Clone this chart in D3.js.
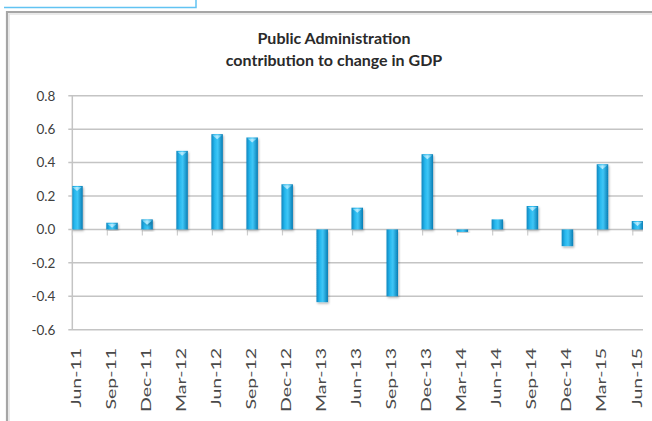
<!DOCTYPE html>
<html>
<head>
<meta charset="utf-8">
<script src="https://cdn.jsdelivr.net/npm/d3@7"></script>
<style>
  body { margin: 0; background: #fff; }
  svg { display: block; }
  text { font-family: Lato, "Open Sans", sans-serif; fill: #404040; }
</style>
</head>
<body>
<div class="chart_area"></div>
<script>
// quarters and values
var quarters = ["Jun-11", "Sep-11", "Dec-11", "Mar-12", "Jun-12", "Sep-12", "Dec-12", "Mar-13",
                "Jun-13", "Sep-13", "Dec-13", "Mar-14", "Jun-14", "Sep-14", "Dec-14", "Mar-15", "Jun-15"];
var contrib = [0.26, 0.04, 0.06, 0.47, 0.57, 0.55, 0.27, -0.435,
               0.13, -0.40, 0.45, -0.015, 0.06, 0.14, -0.10, 0.39, 0.05];
var yTicks = [0.8, 0.6, 0.4, 0.2, 0.0, -0.2, -0.4, -0.6];
var titleLines = ["Public Administration", "contribution to change in GDP"];

var W = 652, H = 421;
var plot = {left: 72.3, right: 643, top: 95.7, bottom: 329.7};

var svg = d3.select(".chart_area")
  .append("svg")
  .attr("width", W)
  .attr("height", H);

var defs = svg.append("defs");

var grad = defs.append("linearGradient")
  .attr("id", "barGrad")
  .attr("x1", "0%").attr("x2", "100%").attr("y1", "0%").attr("y2", "0%");
grad.append("stop").attr("offset", "0%").attr("stop-color", "#0c86bf");
grad.append("stop").attr("offset", "30%").attr("stop-color", "#27b8ee");
grad.append("stop").attr("offset", "55%").attr("stop-color", "#3fc6f6");
grad.append("stop").attr("offset", "100%").attr("stop-color", "#0a7db4");

var capGrad = defs.append("linearGradient")
  .attr("id", "capGrad")
  .attr("x1", "0%").attr("x2", "100%").attr("y1", "0%").attr("y2", "0%");
capGrad.append("stop").attr("offset", "0%").attr("stop-color", "#5cc8ee");
capGrad.append("stop").attr("offset", "50%").attr("stop-color", "#b6ecff");
capGrad.append("stop").attr("offset", "100%").attr("stop-color", "#4dbbe6");

var shadow = defs.append("filter").attr("id", "shadow")
  .attr("x", "-50%").attr("y", "-20%").attr("width", "200%").attr("height", "140%");
shadow.append("feDropShadow")
  .attr("dx", 1).attr("dy", 1.5).attr("stdDeviation", 1.2)
  .attr("flood-color", "#000").attr("flood-opacity", 0.3);

defs.append("clipPath").attr("id", "plotClip")
  .append("rect")
  .attr("x", plot.left).attr("y", 0)
  .attr("width", plot.right - plot.left).attr("height", H);

// frame of the pasted chart
svg.append("path")
  .attr("d", "M4,7.5H196V0")
  .attr("fill", "none")
  .attr("stroke", "#62c3f2")
  .attr("stroke-width", 1.5);

svg.append("path")
  .attr("d", "M7," + H + "V12H" + W)
  .attr("fill", "none")
  .attr("stroke", "#a6a6a6")
  .attr("stroke-width", 2.2);
svg.append("path")
  .attr("d", "M9," + H + "V14H" + W)
  .attr("fill", "none")
  .attr("stroke", "#e4e4e4")
  .attr("stroke-width", 1.5);

// title
svg.append("g").selectAll("text")
  .data(titleLines)
  .enter()
  .append("text")
    .attr("x", 334)
    .attr("y", function(d, i) { return 44 + i * 22; })
    .attr("text-anchor", "middle")
    .style("font-size", "16px")
    .style("font-weight", "bold")
    .style("fill", "#2a2a2a")
    .text(function(d) { return d; });

var y = d3.scaleLinear()
  .domain([-0.6, 0.8])
  .range([plot.bottom, plot.top]);

var x = d3.scalePoint()
  .domain(quarters)
  .range([77, 637.5]);

// gridlines
svg.append("g").selectAll("line")
  .data(yTicks)
  .enter()
  .append("line")
    .attr("x1", plot.left - 4)
    .attr("x2", plot.right)
    .attr("y1", function(d) { return y(d); })
    .attr("y2", function(d) { return y(d); })
    .attr("stroke", "#c4c4c4")
    .attr("stroke-width", 1.5);

// y axis
var yAxis = svg.append("g")
  .attr("transform", "translate(" + plot.left + ",0)")
  .call(d3.axisLeft(y).tickValues(yTicks).tickSize(0).tickPadding(17)
    .tickFormat(d3.format(".1f")));
yAxis.select(".domain").remove();
yAxis.selectAll("text")
  .style("font-size", "13.5px")
  .style("font-family", "Lato, 'Open Sans', sans-serif")
  .style("fill", "#404040")
  .text(function(d) { return d < 0 ? "-" + d3.format(".1f")(-d) : d3.format(".1f")(d); });

svg.append("line")
  .attr("x1", plot.left).attr("x2", plot.left)
  .attr("y1", plot.top).attr("y2", plot.bottom)
  .attr("stroke", "#c4c4c4")
  .attr("stroke-width", 1.5);

// category tick marks under the zero line
svg.append("g").selectAll("line")
  .data(quarters)
  .enter()
  .append("line")
    .attr("x1", function(d) { return x(d) - 4.7; })
    .attr("x2", function(d) { return x(d) - 4.7; })
    .attr("y1", y(0))
    .attr("y2", y(0) + 6)
    .attr("stroke", "#cfcfcf")
    .attr("stroke-width", 1.2);

// bars
var barW = 11.5;
var bars = svg.append("g")
  .attr("clip-path", "url(#plotClip)")
  .selectAll("g")
  .data(contrib)
  .enter()
  .append("g")
  .attr("filter", "url(#shadow)");

bars.append("rect")
  .attr("x", function(d, i) { return x(quarters[i]) - barW / 2; })
  .attr("y", function(d) { return y(Math.max(0, d)); })
  .attr("width", barW)
  .attr("height", function(d) { return Math.max(1.5, Math.abs(y(d) - y(0))); })
  .attr("fill", "url(#barGrad)");

bars.filter(function(d) { return d > 0.02; })
  .append("path")
  .attr("d", function(d) {
    var i = contrib.indexOf(d);
    var cx = x(quarters[i]), ty = y(d);
    return "M" + (cx - barW / 2 + 1) + "," + (ty + 1) + "L" + (cx + barW / 2 - 1) + "," + (ty + 1) +
           "L" + cx + "," + (ty + 5) + "Z";
  })
  .attr("fill", "url(#capGrad)");

// x labels, rotated and stretched
svg.append("g").selectAll("text")
  .data(quarters)
  .enter()
  .append("text")
    .attr("transform", function(d) {
      return "translate(" + (x(d) + 4) + ",348) rotate(-90) scale(1.5,1)";
    })
    .attr("text-anchor", "end")
    .style("font-size", "13px")
    .style("fill", "#4a4a4a")
    .text(function(d) { return d; });
</script>
</body>
</html>
